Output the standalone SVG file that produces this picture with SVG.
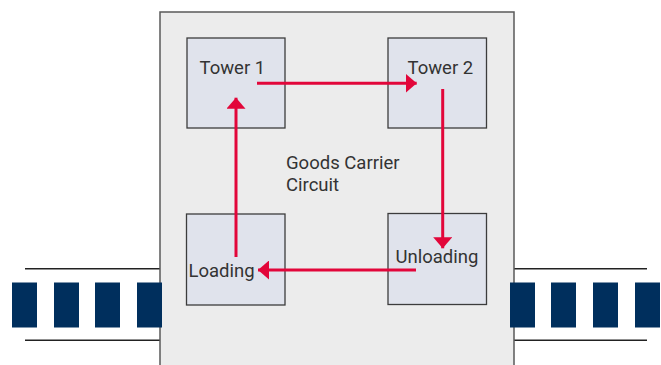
<svg xmlns="http://www.w3.org/2000/svg" width="661" height="365" viewBox="0 0 661 365">
<style>
.box{fill:#e0e3ec;stroke:#3c3c3c;stroke-width:1.3}
.lbl{font-family:Roboto,"Liberation Sans",sans-serif;font-size:18.5px;fill:#333}
.belt{stroke:#222;stroke-width:1.4}
.blk{fill:#002f5d}
.con{stroke:#e2063a;stroke-width:3;fill:none}
</style>
<defs>
<marker id="ah" viewBox="0 0 11 19" refX="11" refY="9.5" markerWidth="11" markerHeight="19" markerUnits="userSpaceOnUse" orient="auto">
<path d="M0,0 L11,9.5 L0,19 Z" fill="#e2063a"/>
</marker>
</defs>
<rect width="661" height="365" fill="#fff"/>
<g id="belt-left">
<line class="belt" x1="25" y1="268.7" x2="160" y2="268.7"/>
<line class="belt" x1="25" y1="340.3" x2="160" y2="340.3"/>
</g>
<g id="belt-right">
<line class="belt" x1="514" y1="268.7" x2="647" y2="268.7"/>
<line class="belt" x1="514" y1="340.3" x2="647" y2="340.3"/>
</g>
<g id="circuit">
<rect x="160" y="12" width="354" height="360" fill="#ececec" stroke="#5a5a5a" stroke-width="1.5"/>
<text class="lbl" x="286" y="168.5">Goods Carrier</text>
<text class="lbl" x="286" y="190.5">Circuit</text>
</g>
<g id="blocks-left">
<rect class="blk" x="12" y="282.5" width="25" height="45"/>
<rect class="blk" x="54" y="282.5" width="25" height="45"/>
<rect class="blk" x="95" y="282.5" width="25" height="45"/>
<rect class="blk" x="137" y="282.5" width="25" height="45"/>
</g>
<g id="blocks-right">
<rect class="blk" x="510" y="282.5" width="25" height="45"/>
<rect class="blk" x="551" y="282.5" width="25" height="45"/>
<rect class="blk" x="593" y="282.5" width="25" height="45"/>
<rect class="blk" x="635" y="282.5" width="25" height="45"/>
</g>
<g id="tower1">
<rect class="box" x="187" y="38" width="98" height="90"/>
<text class="lbl" x="199.5" y="74.3">Tower 1</text>
</g>
<g id="tower2">
<rect class="box" x="388" y="38" width="98.5" height="90"/>
<text class="lbl" x="407.5" y="74.3">Tower 2</text>
</g>
<g id="unloading">
<rect class="box" x="388" y="213.5" width="98.5" height="91"/>
<text class="lbl" x="395.5" y="263">Unloading</text>
</g>
<g id="loading">
<rect class="box" x="186.5" y="214" width="98.5" height="91"/>
<text class="lbl" x="188.5" y="276.5">Loading</text>
</g>
<g id="connectors">
<path class="con" d="M257,83.3 H416.7" marker-end="url(#ah)"/>
<path class="con" d="M442.7,89 V248.3" marker-end="url(#ah)"/>
<path class="con" d="M416,270 H258" marker-end="url(#ah)"/>
<path class="con" d="M236,257 V97.7" marker-end="url(#ah)"/>
</g>
</svg>
